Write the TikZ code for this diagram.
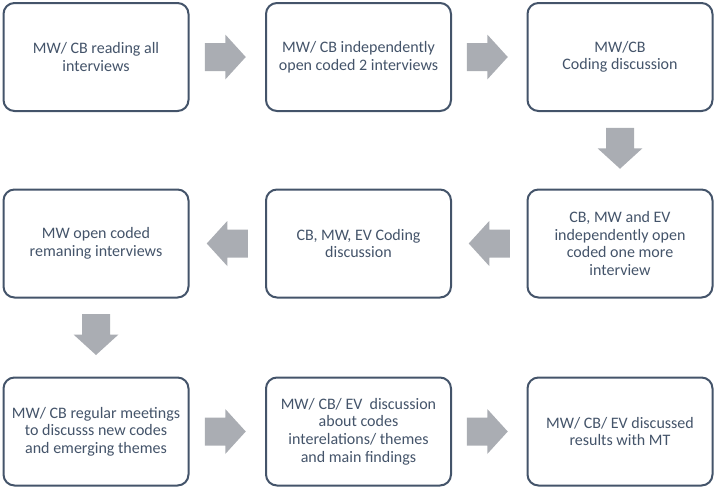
\documentclass[tikz,border=0pt]{standalone}
\usepackage{fontspec}
\setmainfont{Carlito}
\usetikzlibrary{calc}
\definecolor{boxline}{HTML}{44546A}
\definecolor{boxtext}{HTML}{44546A}
\definecolor{arrowgray}{HTML}{AAADB3}
\tikzset{
  stepbox/.style={draw=boxline, line width=2pt, rounded corners=11pt, fill=white,
    minimum width=185pt, minimum height=108pt, align=center, text=boxtext,
    font=\fontsize{16pt}{17.6pt}\selectfont, inner sep=2pt},
  blockarrow/.pic={\fill[arrowgray] (-20.5pt,-14pt) -- (0pt,-14pt) -- (0pt,-22.5pt) -- (20.5pt,0pt) -- (0pt,22.5pt) -- (0pt,14pt) -- (-20.5pt,14pt) -- cycle;}
}
\begin{document}
\begin{tikzpicture}[x=1pt,y=-1pt]
\useasboundingbox (0,0) rectangle (715,488);
\node[stepbox] (b1) at (96,57) {MW/ CB reading all\\interviews};
\node[stepbox] (b2) at (358.5,57) {MW/ CB independently\\open coded 2 interviews};
\node[stepbox] (b3) at (620,57) {MW/CB\\Coding discussion};
\node[stepbox] (b4) at (620,243.5) {CB, MW and EV\\independently open\\coded one more\\interview};
\node[stepbox] (b5) at (358.5,243.5) {CB, MW, EV Coding\\discussion};
\node[stepbox] (b6) at (96,243.5) {MW open coded\\remaning interviews};
\node[stepbox] (b7) at (96,431.5) {MW/ CB regular meetings\\to discusss new codes\\and emerging themes};
\node[stepbox] (b8) at (358.5,431.5) {MW/ CB/ EV\ \ discussion\\about codes\\interelations/ themes\\and main findings};
\node[stepbox] (b9) at (620,431.5) {MW/ CB/ EV discussed\\results with MT};
\pic at ($(b1.east)!0.5!(b2.west)+(-2,0)$) {blockarrow};
\pic at ($(b2.east)!0.5!(b3.west)+(-2,0)$) {blockarrow};
\pic[rotate=-90] at ($(b3.south)!0.5!(b4.north)+(0,-2)$) {blockarrow};
\pic[rotate=180] at ($(b4.west)!0.5!(b5.east)$) {blockarrow};
\pic[rotate=180] at ($(b5.west)!0.5!(b6.east)$) {blockarrow};
\pic[rotate=-90] at ($(b6.south)!0.5!(b7.north)+(0,-3)$) {blockarrow};
\pic at ($(b7.east)!0.5!(b8.west)+(-2,0)$) {blockarrow};
\pic at ($(b8.east)!0.5!(b9.west)+(-2,0)$) {blockarrow};
\end{tikzpicture}
\end{document}
